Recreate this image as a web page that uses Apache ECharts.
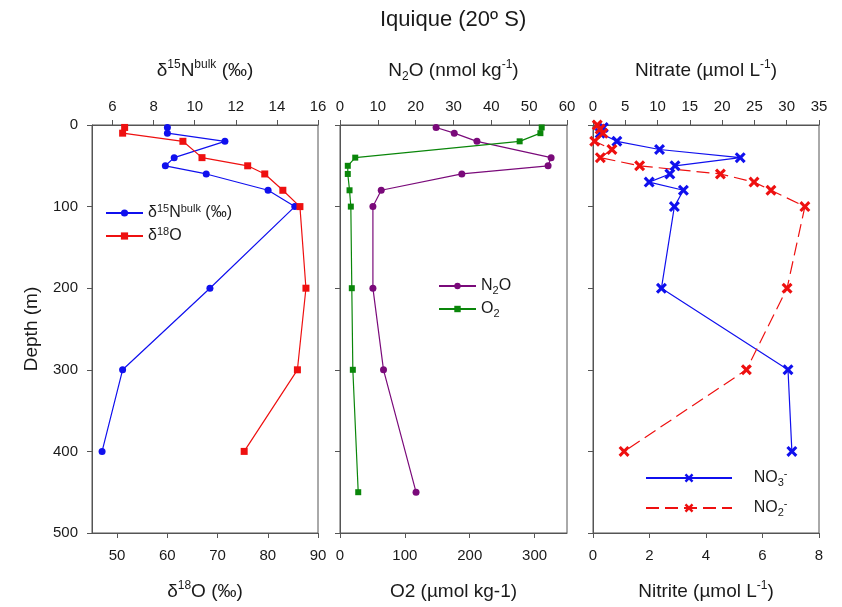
<!DOCTYPE html>
<html><head><meta charset="utf-8">
<script src="https://cdn.jsdelivr.net/npm/echarts@6/dist/echarts.min.js"></script>
<style>html,body{margin:0;padding:0;background:#fff}#c{width:842px;height:607px}</style>
</head><body><div id="c"></div>
<script>
// ---- data ----
const depthLeft = [3, 10, 20, 40, 50, 60, 80, 100, 200, 300, 400];
const d15N = [8.67, 8.67, 11.47, 9.0, 8.57, 10.56, 13.57, 14.87, 10.74, 6.49, 5.49];
const d18O = [51.5, 51.1, 63.1, 66.9, 76.0, 79.4, 83.0, 86.4, 87.6, 85.9, 75.3];

const depthMid = [3, 10, 20, 40, 50, 60, 80, 100, 200, 300, 450];
const n2o = [25.4, 30.2, 36.2, 55.8, 55.0, 32.2, 10.9, 8.7, 8.7, 11.5, 20.1];
const o2 = [311, 309, 277, 23.5, 12, 12, 14.7, 16.7, 18.2, 19.8, 28.1];

const depthNO3 = [3, 10, 20, 30, 40, 50, 60, 70, 80, 100, 200, 300, 400];
const no3 = [1.6, 1.1, 3.7, 10.3, 22.8, 12.7, 11.9, 8.7, 14.0, 12.6, 10.6, 30.2, 30.8];
const depthNO2 = [0, 5, 10, 20, 30, 40, 50, 60, 70, 80, 100, 200, 300, 400];
const no2 = [0.15, 0.25, 0.35, 0.06, 0.67, 0.26, 1.65, 4.51, 5.7, 6.3, 7.5, 6.87, 5.43, 1.10];

const tickD15N = [6, 8, 10, 12, 14, 16];
const tickD18O = [50, 60, 70, 80, 90];
const tickO2 = [0, 100, 200, 300];

const pair = (xs, ds) => xs.map((v, i) => [v, ds[i]]);

const FONT = '"Liberation Sans", Arial, sans-serif';
const TXT = '#1a1a1a';
const AX = '#555';
const nameRich = {
  n: {fontSize: 19, fontFamily: FONT, color: TXT, lineHeight: 24},
  sup: {fontSize: 12, fontFamily: FONT, color: TXT, lineHeight: 12, verticalAlign: 'top'},
  sub: {fontSize: 12, fontFamily: FONT, color: TXT, lineHeight: 12, verticalAlign: 'bottom'}
};
const legRich = {
  n: {fontSize: 16, fontFamily: FONT, color: TXT, lineHeight: 20},
  sup: {fontSize: 11, fontFamily: FONT, color: TXT, lineHeight: 10, verticalAlign: 'top'},
  sub: {fontSize: 11, fontFamily: FONT, color: TXT, lineHeight: 10, verticalAlign: 'bottom'}
};
const XPATH = 'path://M0,2 L2,0 L5,3 L8,0 L10,2 L7,5 L10,8 L8,10 L5,7 L2,10 L0,8 L3,5 Z';

function lab(extra) {
  return Object.assign({fontSize: 15, fontFamily: FONT, color: TXT}, extra);
}
function xAx(grid, pos, min, max, opts) {
  const a = {
    type: 'value', gridIndex: grid, position: pos, min: min, max: max,
    splitLine: {show: false},
    axisLine: {show: true, onZero: false, lineStyle: {color: AX, width: 1}},
    axisTick: {show: true, length: 5, lineStyle: {color: AX}},
    axisLabel: lab({margin: pos === 'top' ? 11 : 15}),
    nameLocation: 'middle',
    nameTextStyle: {rich: nameRich},
    nameGap: pos === 'top' ? 42 : 47
  };
  if (opts.ticks) {
    a.axisLabel.customValues = opts.ticks;
    a.axisTick.customValues = opts.ticks;
    delete opts.ticks;
  }
  return Object.assign(a, opts);
}
function yAx(grid, showLabel) {
  return {
    type: 'value', gridIndex: grid, inverse: true, min: 0, max: 500, interval: 100,
    splitLine: {show: false},
    axisLine: {show: true, onZero: false, lineStyle: {color: AX, width: 1}},
    axisTick: {show: true, length: 5, lineStyle: {color: AX}},
    axisLabel: lab({show: showLabel, margin: 14}),
    name: showLabel ? 'Depth (m)' : '',
    nameLocation: 'middle', nameGap: 51,
    nameTextStyle: {fontSize: 19, fontFamily: FONT, color: TXT}
  };
}

const grids = [
  {left: 92, right: 524, top: 125, bottom: 74},
  {left: 340, right: 275, top: 125, bottom: 74},
  {left: 593, right: 23, top: 125, bottom: 74}
].map(g => Object.assign(g, {show: true, borderColor: AX, borderWidth: 1, backgroundColor: 'transparent', containLabel: false}));

const legendNames = {
  d15N: '{n|δ}{sup|15}{n|N}{sup|bulk}{n| (‰)}',
  d18O: '{n|δ}{sup|18}{n|O}',
  N2O: '{n|N}{sub|2}{n|O}',
  O2: '{n|O}{sub|2}',
  NO3: '{n|NO}{sub|3}{sup|-}',
  NO2: '{n|NO}{sub|2}{sup|-}'
};

const option = {
  backgroundColor: '#fff',
  animation: false,
  title: {
    text: 'Iquique (20º S)', left: 375, top: 4,
    textStyle: {fontSize: 22, fontWeight: 'normal', fontFamily: FONT, color: TXT}
  },
  grid: grids,
  xAxis: [
    xAx(0, 'top', 5, 16, {name: '{n|δ}{sup|15}{n|N}{sup|bulk}{n| (‰)}', ticks: tickD15N}),
    xAx(0, 'bottom', 45, 90, {name: '{n|δ}{sup|18}{n|O (‰)}', ticks: tickD18O}),
    xAx(1, 'top', 0, 60, {interval: 10, name: '{n|N}{sub|2}{n|O (nmol kg}{sup|-1}{n|)}'}),
    xAx(1, 'bottom', 0, 350, {name: '{n|O2 (µmol kg-1)}', ticks: tickO2}),
    xAx(2, 'top', 0, 35, {interval: 5, name: '{n|Nitrate (µmol L}{sup|-1}{n|)}'}),
    xAx(2, 'bottom', 0, 8, {interval: 2, name: '{n|Nitrite (µmol L}{sup|-1}{n|)}'})
  ],
  yAxis: [yAx(0, true), yAx(1, false), yAx(2, false)],
  legend: [
    {data: ['d15N', 'd18O'], left: 105, top: 203, padding: 0, orient: 'vertical', itemWidth: 37, itemHeight: 9, itemGap: 5,
      formatter: n => legendNames[n], textStyle: {rich: legRich}},
    {data: ['N2O', 'O2'], left: 438, top: 278, padding: 0, orient: 'vertical', itemWidth: 37, itemHeight: 8, itemGap: 5,
      formatter: n => legendNames[n], textStyle: {rich: legRich}},
    {data: ['NO3', 'NO2'], left: 645, top: 468, padding: 0, orient: 'vertical', itemWidth: 86, itemHeight: 11, itemGap: 10,
      formatter: n => '     ' + legendNames[n], textStyle: {rich: legRich}}
  ],
  series: [
    {name: 'd15N', type: 'line', xAxisIndex: 0, yAxisIndex: 0, data: pair(d15N, depthLeft),
      symbol: 'circle', symbolSize: 7, color: '#1010ee', lineStyle: {width: 1.2, color: '#1010ee'}},
    {name: 'd18O', type: 'line', xAxisIndex: 1, yAxisIndex: 0, data: pair(d18O, depthLeft),
      symbol: 'rect', symbolSize: 7, color: '#ee1010', lineStyle: {width: 1.2, color: '#ee1010'}},
    {name: 'N2O', type: 'line', xAxisIndex: 2, yAxisIndex: 1, data: pair(n2o, depthMid),
      symbol: 'circle', symbolSize: 7, color: '#7a0a7a', lineStyle: {width: 1.2, color: '#7a0a7a'}},
    {name: 'O2', type: 'line', xAxisIndex: 3, yAxisIndex: 1, data: pair(o2, depthMid),
      symbol: 'rect', symbolSize: 6, color: '#0a860a', lineStyle: {width: 1.2, color: '#0a860a'}},
    {name: 'NO3', type: 'line', xAxisIndex: 4, yAxisIndex: 2, data: pair(no3, depthNO3),
      symbol: XPATH, symbolSize: 11, color: '#1010ee', lineStyle: {width: 1.2, color: '#1010ee'}},
    {name: 'NO2', type: 'line', xAxisIndex: 5, yAxisIndex: 2, data: pair(no2, depthNO2),
      symbol: XPATH, symbolSize: 11, color: '#ee1010', lineStyle: {width: 1.2, color: '#ee1010', type: [13, 6]}}
  ]
};
const chart = echarts.init(document.getElementById('c'), null, {renderer: 'canvas'});
chart.setOption(option);
</script>
</body></html>
